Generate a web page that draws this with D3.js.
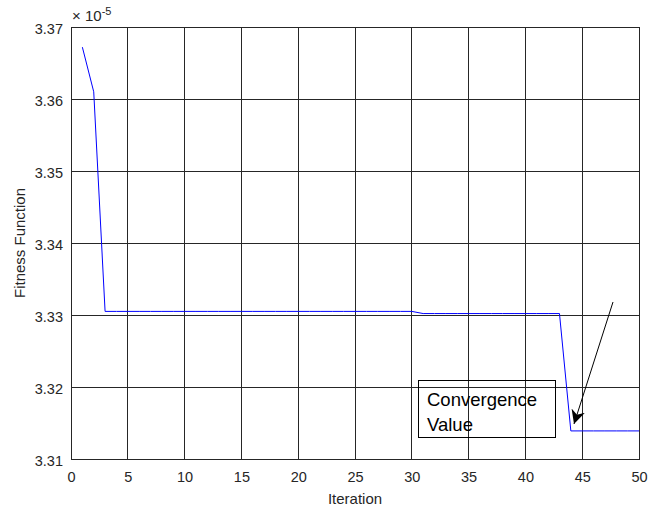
<!DOCTYPE html>
<html>
<head>
<meta charset="utf-8">
<script src="https://cdn.jsdelivr.net/npm/d3@7"></script>
<style>
  body { margin: 0; background: #fff; }
  text { font-family: "Liberation Sans", Arial, sans-serif; }
</style>
</head>
<body>
<svg id="chart" width="662" height="511"></svg>
<script>
// fitness per iteration, in units of 1e-5
var iterations = [1,2,3,4,5,6,7,8,9,10,11,12,13,14,15,16,17,18,19,20,21,22,23,24,25,26,27,28,29,30,31,32,33,34,35,36,37,38,39,40,41,42,43,44,45,46,47,48,49,50];
var fitness = [3.3672,3.3610,3.3305,3.3305,3.3305,3.3305,3.3305,3.3305,3.3305,3.3305,
               3.3305,3.3305,3.3305,3.3305,3.3305,3.3305,3.3305,3.3305,3.3305,3.3305,
               3.3305,3.3305,3.3305,3.3305,3.3305,3.3305,3.3305,3.3305,3.3305,3.3305,
               3.3302,3.3302,3.3302,3.3302,3.3302,3.3302,3.3302,3.3302,3.3302,3.3302,
               3.3302,3.3302,3.3302,3.3139,3.3139,3.3139,3.3139,3.3139,3.3139,3.3139];
var xTicks = [0,5,10,15,20,25,30,35,40,45,50];
var yTicks = [3.31,3.32,3.33,3.34,3.35,3.36,3.37];

var margin = {left: 71, right: 23, top: 27, bottom: 52};
var W = 662, H = 511;

var svg = d3.select("#chart");
var x = d3.scaleLinear().domain([0, 50]).range([margin.left, W - margin.right]);
var y = d3.scaleLinear().domain([3.31, 3.37]).range([H - margin.bottom, margin.top]);

//grid lines
svg.append("g").selectAll("line").data(xTicks).enter().append("line")
  .attr("x1", function(d){return x(d);}).attr("x2", function(d){return x(d);})
  .attr("y1", y(3.31)).attr("y2", y(3.37))
  .attr("stroke", "#262626").attr("stroke-width", 1).attr("shape-rendering", "crispEdges");
svg.append("g").selectAll("line").data(yTicks).enter().append("line")
  .attr("x1", x(0)).attr("x2", x(50))
  .attr("y1", function(d){return y(d);}).attr("y2", function(d){return y(d);})
  .attr("stroke", "#262626").attr("stroke-width", 1).attr("shape-rendering", "crispEdges");

//axes
var xAxis = svg.append("g").attr("transform", "translate(0," + y(3.31) + ")")
  .call(d3.axisBottom(x).tickValues(xTicks).tickSize(0).tickPadding(13));
var yAxis = svg.append("g").attr("transform", "translate(" + x(0) + ",0)")
  .call(d3.axisLeft(y).tickValues(yTicks).tickSize(0).tickPadding(8).tickFormat(d3.format(".2f")));
[xAxis, yAxis].forEach(function(a){
  a.select(".domain").remove();
  a.selectAll("text").attr("font-size", 14.5).attr("fill", "#262626")
    .style("font-family", "'Liberation Sans', Arial, sans-serif");
});
yAxis.selectAll("text").attr("dy", "0.45em");

//box
svg.append("rect").attr("x", x(0)).attr("y", y(3.37))
  .attr("width", x(50) - x(0)).attr("height", y(3.31) - y(3.37))
  .attr("fill", "none").attr("stroke", "#262626").attr("stroke-width", 1)
  .attr("shape-rendering", "crispEdges");

//line
var line = d3.line().x(function(d, i){return x(iterations[i]);}).y(function(d){return y(d);});
svg.append("path").datum(fitness).attr("d", line)
  .attr("fill", "none").attr("stroke", "#0000ff").attr("stroke-width", 1);

//exponent
var ex = svg.append("text").attr("x", x(0) + 1).attr("y", y(3.37) - 6)
  .attr("font-size", 15).attr("fill", "#262626");
ex.append("tspan").text("\u00d7 10");
ex.append("tspan").attr("dy", -6).attr("font-size", 11).text("-5");

//axis titles
svg.append("text").attr("x", (x(0) + x(50)) / 2).attr("y", 504)
  .attr("text-anchor", "middle").attr("font-size", 15).attr("fill", "#262626").text("Iteration");
svg.append("text").attr("transform", "translate(25," + (y(3.34)) + ") rotate(-90)")
  .attr("text-anchor", "middle").attr("font-size", 15).attr("fill", "#262626").text("Fitness Function");

//annotation
svg.append("rect").attr("x", 418.5).attr("y", 380.5).attr("width", 137).attr("height", 57)
  .attr("fill", "none").attr("stroke", "#000").attr("stroke-width", 1);
svg.append("text").attr("x", 427).attr("y", 406).attr("font-size", 18.5).attr("fill", "#000").text("Convergence");
svg.append("text").attr("x", 427).attr("y", 431).attr("font-size", 18.5).attr("fill", "#000").text("Value");

svg.append("defs").append("marker").attr("id", "arrow")
  .attr("viewBox", "0 0 10 10").attr("refX", 10).attr("refY", 5)
  .attr("markerWidth", 14).attr("markerHeight", 14).attr("markerUnits", "userSpaceOnUse")
  .attr("orient", "auto")
  .append("path").attr("d", "M0,0 L10,5 L0,10 L3,5 Z").attr("fill", "#000");
svg.append("line").attr("x1", 613).attr("y1", 302).attr("x2", 574).attr("y2", 424)
  .attr("stroke", "#000").attr("stroke-width", 1).attr("marker-end", "url(#arrow)");
</script>
</body>
</html>
